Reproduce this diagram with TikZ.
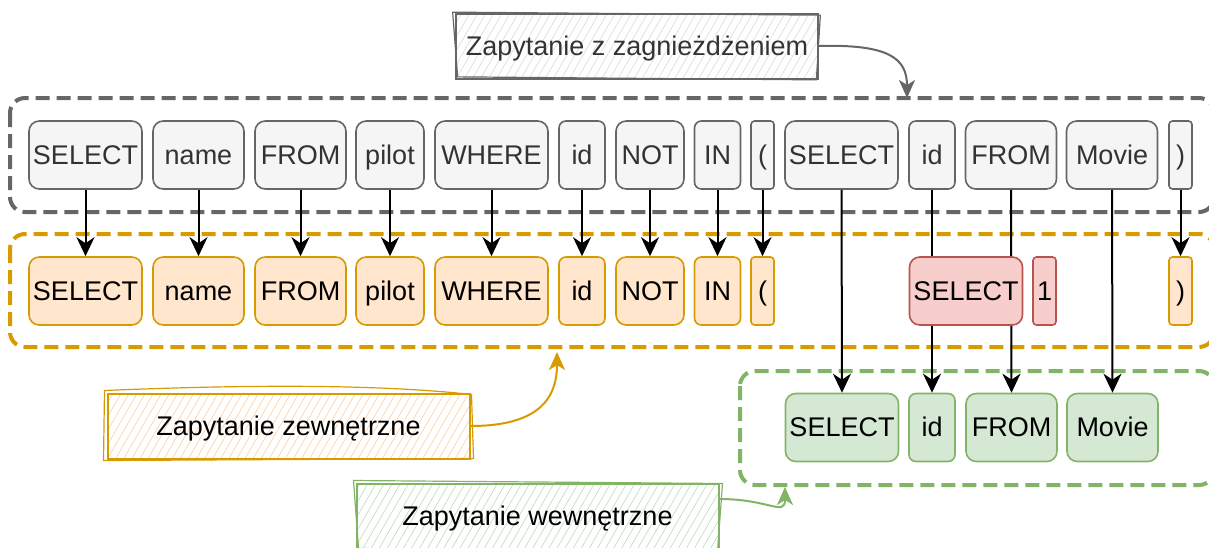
\documentclass[tikz,border=0pt]{standalone}
\usepackage{fontspec}
\setmainfont{Liberation Sans}
\usetikzlibrary{arrows.meta,patterns.meta}

\definecolor{grayfill}{HTML}{F5F5F5}
\definecolor{graydraw}{HTML}{666666}
\definecolor{graytext}{HTML}{333333}
\definecolor{orfill}{HTML}{FFE6CC}
\definecolor{ordraw}{HTML}{D79B00}
\definecolor{redfill}{HTML}{F8CECC}
\definecolor{reddraw}{HTML}{B85450}
\definecolor{grfill}{HTML}{D5E8D4}
\definecolor{grdraw}{HTML}{82B366}
\definecolor{grayhatch}{HTML}{DDDDDD}
\definecolor{orhatch}{HTML}{FFD2A6}
\definecolor{grhatch}{HTML}{C3DEC1}

\tikzset{
  tok/.style={rectangle, minimum height=68pt, inner sep=0pt, line width=1.6pt,
    text height=24pt, text depth=6pt,
    font=\fontsize{27}{32}\selectfont},
  w/.style={minimum width=#1pt, rounded corners={min(#1,68)*0.15*1pt}},
  graytok/.style={tok, fill=grayfill, draw=graydraw, text=graytext},
  ortok/.style={tok, fill=orfill, draw=ordraw, text=black},
  redtok/.style={tok, fill=redfill, draw=reddraw, text=black},
  grtok/.style={tok, fill=grfill, draw=grdraw, text=black},
  group/.style={line width=4pt, dash pattern=on 14pt off 7pt, rounded corners=15pt},
  link/.style={line width=2pt, -{Stealth[length=19pt,width=18pt,inset=6pt]}},
  note/.style={rectangle, inner sep=0pt, minimum height=65pt, minimum width=362pt,
    text height=24pt, text depth=6pt,
    line width=2pt, font=\fontsize{27}{32}\selectfont},
  pointer/.style={line width=2pt, -{Stealth[length=18pt,width=16pt,inset=5pt]}},
  hatch/.style={pattern={Lines[angle=60,distance=7pt,line width=0.7pt]}, pattern color=#1},
}

\begin{document}
\begin{tikzpicture}[x=1pt, y=-1pt]
\clip (0,0) rectangle (1209,547);

% group frames
\draw[group, graydraw] (10,98) rectangle (1214,212);
\draw[group, ordraw] (10,234) rectangle (1214,347);
\draw[group, grdraw] (740,371) rectangle (1214,485);

% top row: full query
\node[graytok, w=113] (t1) at (85.5,155) {SELECT};
\node[graytok, w=91] (t2) at (198.5,155) {name};
\node[graytok, w=91] (t3) at (300.5,155) {FROM};
\node[graytok, w=68] (t4) at (390,155) {pilot};
\node[graytok, w=113] (t5) at (491.5,155) {WHERE};
\node[graytok, w=46] (t6) at (582,155) {id};
\node[graytok, w=68] (t7) at (650,155) {NOT};
\node[graytok, w=46] (t8) at (717.5,155) {IN};
\node[graytok, w=23] (t9) at (762.5,155) {(};
\node[graytok, w=113] (t10) at (841.5,155) {SELECT};
\node[graytok, w=46] (t11) at (932,155) {id};
\node[graytok, w=91] (t12) at (1011,155) {FROM};
\node[graytok, w=91] (t13) at (1112,155) {Movie};
\node[graytok, w=23] (t14) at (1180.5,155) {)};

% middle row: outer query
\node[ortok, w=113] (o1) at (85.5,291) {SELECT};
\node[ortok, w=91] (o2) at (198.5,291) {name};
\node[ortok, w=91] (o3) at (300.5,291) {FROM};
\node[ortok, w=68] (o4) at (390,291) {pilot};
\node[ortok, w=113] (o5) at (491.5,291) {WHERE};
\node[ortok, w=46] (o6) at (582,291) {id};
\node[ortok, w=68] (o7) at (650,291) {NOT};
\node[ortok, w=46] (o8) at (717.5,291) {IN};
\node[ortok, w=23] (o9) at (762.5,291) {(};
\node[ortok, w=23] (o14) at (1180.5,291) {)};

% bottom row: inner query
\node[grtok, w=113] (i1) at (842,427.5) {SELECT};
\node[grtok, w=46] (i2) at (932,427.5) {id};
\node[grtok, w=91] (i3) at (1011.5,427.5) {FROM};
\node[grtok, w=91] (i4) at (1112.5,427.5) {Movie};

% token links
\foreach \k in {1,...,9,14} \draw[link] (t\k.south) -- (o\k.north);
\draw[link] (t10.south) -- (i1.north);
\draw[link] (t11.south) -- (i2.north);
\draw[link] (t12.south) -- (i3.north);
\draw[link] (t13.south) -- (i4.north);

% replacement tokens of the outer query
\node[redtok, w=113] (r1) at (966,291) {SELECT};
\node[redtok, w=23] (r2) at (1044.5,291) {1};

% sketched captions
\node[note, draw=graydraw, text=graytext, hatch=grayhatch]
  (nz) at (637,46) {Zapytanie z zagnieżdżeniem};
\draw[graydraw, line width=1.2pt]
  ([shift={(-3,-1)}]nz.north west) -- ([shift={(2,2)}]nz.north east)
  -- ([shift={(-2,1)}]nz.south east) -- ([shift={(2,-2)}]nz.south west) -- cycle;

\node[note, draw=ordraw, text=black, hatch=orhatch]
  (nout) at (288.5,426) {Zapytanie zewnętrzne};
\draw[ordraw, line width=1.2pt]
  ([shift={(-2,-2)}]nout.north west) .. controls ([shift={(-200,-9)}]nout.north east) and ([shift={(-80,-7)}]nout.north east) .. ([shift={(1,2)}]nout.north east)
  -- ([shift={(3,-1)}]nout.south east) -- ([shift={(-3,1)}]nout.south west) -- cycle;

\node[note, draw=grdraw, text=black, hatch=grhatch]
  (nin) at (537.5,516) {Zapytanie wewnętrzne};
\draw[grdraw, line width=1.2pt]
  ([shift={(-2,-2)}]nin.north west) -- ([shift={(3,1)}]nin.north east)
  -- ([shift={(-2,2)}]nin.south east) -- ([shift={(3,-1)}]nin.south west) -- cycle;

% caption pointers
\coordinate (gz) at (907,98);
\coordinate (gout) at (557,352);
\coordinate (gin) at (785,487);
\draw[pointer, graydraw] (nz.east) .. controls +(70,-2) and +(0,-40) .. (gz);
\draw[pointer, ordraw] (nout.east) .. controls +(70,0) and +(0,45) .. (gout);
\draw[pointer, grdraw] ([yshift=17]nin.east) .. controls +(50,0) and +(0,30) .. (gin);
\end{tikzpicture}
\end{document}
